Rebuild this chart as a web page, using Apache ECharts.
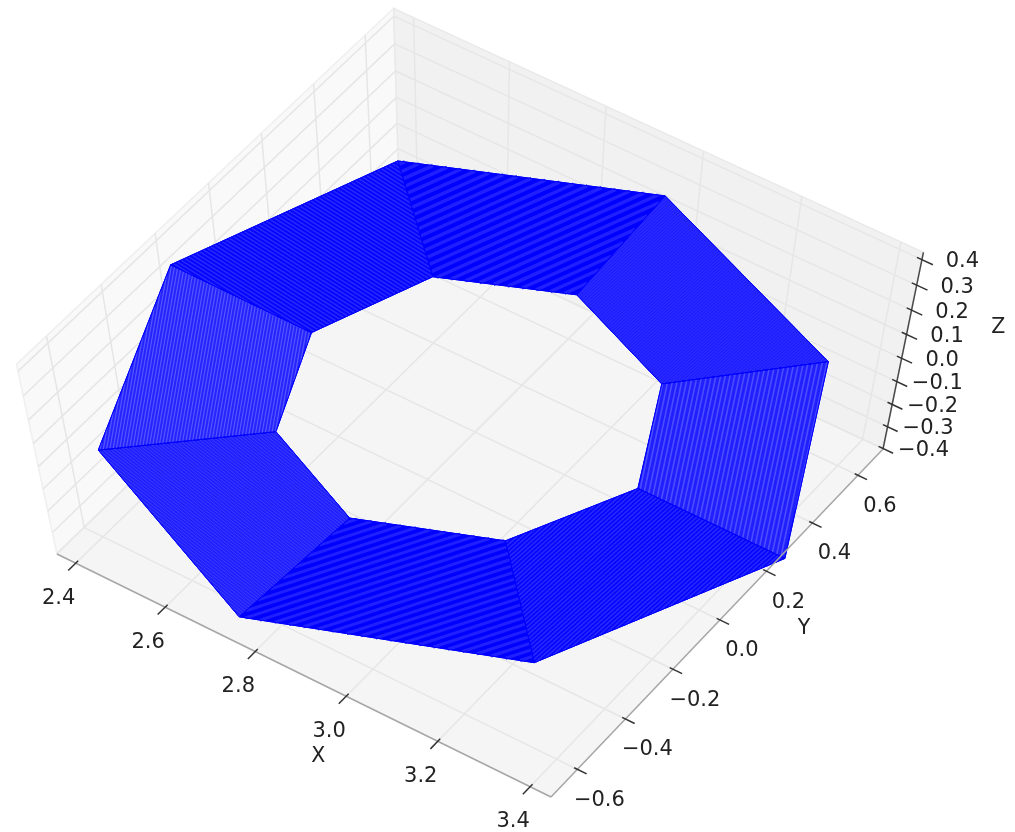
<!DOCTYPE html>
<html>
<head>
<meta charset="utf-8">
<style>html,body{margin:0;padding:0;background:#fff}#c{width:1015px;height:832px}</style>
<script src="https://cdn.jsdelivr.net/npm/echarts@6/dist/echarts.min.js"></script>
</head>
<body>
<div id="c"></div>
<script>
// ---- data ----
const xTicks = [2.4, 2.6, 2.8, 3.0, 3.2, 3.4];
const yTicks = [-0.6, -0.4, -0.2, 0.0, 0.2, 0.4, 0.6];
const zTicks = [-0.4, -0.3, -0.2, -0.1, 0.0, 0.1, 0.2, 0.3, 0.4];
const xLimits = [2.358, 3.445];
const yLimits = [-0.709, 0.711];
const zLimits = [-0.402, 0.428];
// strip: eight flat panels between an outer and an inner loop
const outerX = [2.557, 2.966, 3.343, 3.455, 3.244, 2.759, 2.419, 2.413];
const outerY = [0.353, 0.636, 0.605, 0.260, -0.396, -0.689, -0.588, -0.245];
const outerZ = [0.35, 0.30, 0.00, -0.40, -0.35, -0.30, 0.00, 0.40];
const innerX = [2.710, 2.931, 3.133, 3.189, 3.076, 2.826, 2.646, 2.627];
const innerY = [0.200, 0.357, 0.324, 0.133, -0.199, -0.359, -0.309, -0.120];
const innerZ = [0.18, 0.15, 0.00, -0.20, -0.18, -0.15, 0.00, 0.20];

// ---- view (camera calibration of the 3D box on the page) ----
const view = {a:482.16,b:358.02,c:57,d:225.87,e:-323.67,f:554,g:-0.02149,h:0.03754,k:-0.09,nx:467.2,ny:2471.6};
function project(X, Y, Z) {
  const u = (X - xLimits[0]) / (xLimits[1] - xLimits[0]);
  const v = (Y - yLimits[0]) / (yLimits[1] - yLimits[0]);
  const w = (Z - zLimits[0]) / (zLimits[1] - zLimits[0]);
  const kw = view.k * w;
  const den = view.g * u + view.h * v + 1 + kw;
  return [(view.a * u + view.b * v + view.c + kw * view.nx) / den,
          (view.d * u + view.e * v + view.f + kw * view.ny) / den];
}

// ---- styles ----
const panelLook = [
  {base:'#0000ff', line:'#2020ff', angle:-24, step:7.4, width:3.4},
  {base:'#1e1eff', line:'#3030ff', angle:-42, step:2.4, width:1.0},
  {base:'#2020ff', line:'#4c4cff', angle:-78, step:4.6, width:1.6},
  {base:'#0606ff', line:'#2828ff', angle:-42, step:3.2, width:1.5},
  {base:'#0000ff', line:'#2020ff', angle:-18, step:6.6, width:3.0},
  {base:'#2020ff', line:'#3c3cff', angle:38, step:2.6, width:1.0},
  {base:'#2424ff', line:'#5555ff', angle:-80, step:3.2, width:1.2},
  {base:'#0606ff', line:'#2828ff', angle:32, step:3.4, width:1.5}
];
const gridColor = '#e6e6e6', tickColor = '#333333', fontFamily = '"DejaVu Sans"', fontSize = 21;

const [x0, x1] = xLimits, [y0, y1] = yLimits, [z0, z1] = zLimits;
const fmt = v => (v < 0 ? '\u2212' : '') + Math.abs(v).toFixed(1);

function segment(api, a, b, color, width) {
  const p = api.coord(project(...a)), q = api.coord(project(...b));
  return {type:'line', shape:{x1:p[0], y1:p[1], x2:q[0], y2:q[1]}, style:{stroke:color, lineWidth:width}};
}
function face(api, pts, fill, stroke, width) {
  return {type:'polygon', shape:{points:pts.map(p => api.coord(project(...p)))},
          style:{fill:fill, stroke:stroke, lineWidth:width}};
}
function label(api, at, dx, dy, text, size) {
  const p = api.coord(project(...at));
  return {type:'text', x:p[0] + dx, y:p[1] + dy,
          style:{text:text, fill:'#222222', font:(size || fontSize) + 'px ' + fontFamily, align:'center', verticalAlign:'middle'}};
}

function renderBox(params, api) {
  const c = [];
  c.push(face(api, [[x0,y0,z0],[x1,y0,z0],[x1,y1,z0],[x0,y1,z0]], '#f5f5f5', '#f0f0f0', 1));
  c.push(face(api, [[x0,y0,z0],[x0,y1,z0],[x0,y1,z1],[x0,y0,z1]], '#f9f9f9', '#efefef', 1.5));
  c.push(face(api, [[x0,y1,z0],[x1,y1,z0],[x1,y1,z1],[x0,y1,z1]], '#f1f1f1', '#e9e9e9', 1.5));
  xTicks.forEach(v => {
    c.push(segment(api, [v,y0,z0], [v,y1,z0], gridColor, 1.5));
    c.push(segment(api, [v,y1,z0], [v,y1,z1], gridColor, 1.5));
  });
  yTicks.forEach(v => {
    c.push(segment(api, [x0,v,z0], [x1,v,z0], gridColor, 1.5));
    c.push(segment(api, [x0,v,z0], [x0,v,z1], gridColor, 1.5));
  });
  zTicks.forEach(v => {
    c.push(segment(api, [x0,y0,v], [x0,y1,v], gridColor, 1.5));
    c.push(segment(api, [x0,y1,v], [x1,y1,v], gridColor, 1.5));
  });
  return {type:'group', children:c};
}

function clipLine(poly, px, py, dx, dy) {
  let lo = Infinity, hi = -Infinity;
  for (let i = 0; i < poly.length; i++) {
    const a = poly[i], b = poly[(i + 1) % poly.length];
    const ex = b[0] - a[0], ey = b[1] - a[1];
    const den = dx * ey - dy * ex;
    if (Math.abs(den) < 1e-9) continue;
    const t = ((a[0] - px) * ey - (a[1] - py) * ex) / den;
    const s = ((a[0] - px) * dy - (a[1] - py) * dx) / den;
    if (s >= 0 && s <= 1) { lo = Math.min(lo, t); hi = Math.max(hi, t); }
  }
  return hi > lo ? [lo, hi] : null;
}

function renderPanel(params, api) {
  const i = api.value(0), n = outerX.length, j = (i + 1) % n;
  const corners = [[outerX[i],outerY[i],outerZ[i]],[outerX[j],outerY[j],outerZ[j]],
                   [innerX[j],innerY[j],innerZ[j]],[innerX[i],innerY[i],innerZ[i]]];
  const poly = corners.map(p => api.coord(project(...p)));
  const look = panelLook[i];
  const ch = [{type:'polygon', shape:{points:poly}, style:{fill:look.base, stroke:'#0000ff', lineWidth:1}}];
  const ang = look.angle * Math.PI / 180, dx = Math.cos(ang), dy = Math.sin(ang), nx = -dy, ny = dx;
  const proj = poly.map(p => p[0] * nx + p[1] * ny);
  const lo = Math.min(...proj), hi = Math.max(...proj);
  for (let s = lo + look.step / 2; s < hi; s += look.step) {
    const r = clipLine(poly, nx * s, ny * s, dx, dy);
    if (!r) continue;
    ch.push({type:'line', shape:{x1:nx*s+dx*r[0], y1:ny*s+dy*r[0], x2:nx*s+dx*r[1], y2:ny*s+dy*r[1]},
             style:{stroke:look.line, lineWidth:look.width}});
  }
  // the seam towards the next panel reads as a thin pure-blue line
  ch.push({type:'polygon', shape:{points:poly}, style:{fill:'none', stroke:'#0000ff', lineWidth:1}});
  return {type:'group', children:ch};
}

function renderAxes(params, api) {
  const c = [];
  c.push(segment(api, [x0,y0,z0], [x1,y0,z0], '#a6a6a6', 1.5));
  c.push(segment(api, [x1,y0,z0], [x1,y1,z0], '#a6a6a6', 1.5));
  c.push(segment(api, [x1,y1,z0], [x1,y1,z1], '#4a4a4a', 1.5));
  xTicks.forEach(v => {
    c.push(segment(api, [v,y0+0.010,z0], [v,y0-0.030,z0], tickColor, 1.5));
    c.push(label(api, [v,y0,z0], -17, 35, fmt(v)));
  });
  yTicks.forEach(v => {
    c.push(segment(api, [x1-0.007,v,z0], [x1+0.020,v,z0], tickColor, 1.5));
    c.push(label(api, [x1,v,z0], 22, 31, fmt(v)));
  });
  zTicks.forEach(v => {
    c.push(segment(api, [x1-0.010,y1,v], [x1+0.022,y1,v], tickColor, 1.5));
    c.push(label(api, [x1,y1,v], 40.5, 2, fmt(v)));
  });
  c.push(label(api, [(x0+x1)/2,y0,z0], 17, 82, 'X', 20.5));
  c.push(label(api, [x1,(y0+y1)/2,z0], 84, 9, 'Y', 20.5));
  c.push(label(api, [x1,y1,(z0+z1)/2], 96, -28, 'Z', 20.5));
  return {type:'group', children:c};
}

const chart = echarts.init(document.getElementById('c'), null, {renderer:'canvas'});
chart.setOption({
  animation:false,
  backgroundColor:'#ffffff',
  grid:{left:0, right:0, top:0, bottom:0},
  xAxis:{type:'value', min:0, max:1015, show:false},
  yAxis:{type:'value', min:0, max:832, inverse:true, show:false},
  tooltip:{show:false},
  series:[
    {type:'custom', silent:true, clip:false, z:1, data:[[0,0]], renderItem:renderBox},
    {type:'custom', silent:true, clip:false, z:2, data:outerX.map((_, i) => [i, 0]), renderItem:renderPanel},
    {type:'custom', silent:true, clip:false, z:3, data:[[0,0]], renderItem:renderAxes}
  ]
});
</script>
</body>
</html>
